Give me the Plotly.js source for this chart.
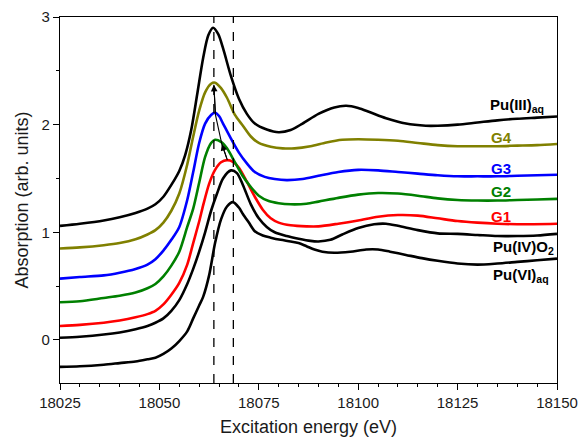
<!DOCTYPE html>
<html>
<head>
<meta charset="utf-8">
<script src="https://cdn.plot.ly/plotly-3.0.1.min.js"></script>
<style>html,body{margin:0;padding:0;background:#fff;}#chart{width:582px;height:443px;}</style>
</head>
<body>
<div id="chart"></div>
<script>
// ---- Data ----
const puVI_E = [18025,18030,18036,18040,18044,18047,18049,18051,18053,18055,18057,18058.5,18060,18061,18062.5,18064,18065.5,18067,18068.5,18070,18071,18072.5,18074,18076,18078,18080.5,18083,18085,18087,18089,18091,18094,18098,18102,18105,18108,18112,18116,18120,18125,18130,18135,18140,18145,18150];
const puVI_Y = [-0.25,-0.245,-0.23,-0.215,-0.2,-0.18,-0.165,-0.13,-0.08,-0.01,0.08,0.2,0.32,0.4,0.6,0.9,1.12,1.24,1.28,1.23,1.17,1.09,1.01,0.97,0.95,0.93,0.915,0.9,0.87,0.84,0.82,0.81,0.82,0.84,0.84,0.82,0.79,0.76,0.735,0.71,0.7,0.71,0.725,0.74,0.755];

const puIV_E = [18025,18030,18036,18040,18044,18047,18049,18051,18053,18055,18057,18058.5,18060,18061.5,18063,18064.5,18066,18068,18069.5,18071,18073,18075,18077,18079,18082,18085,18088,18090,18093,18096,18100,18104,18107,18110,18115,18120,18125,18130,18135,18140,18145,18150];
const puIV_Y = [0.02,0.03,0.05,0.07,0.1,0.13,0.16,0.2,0.27,0.37,0.52,0.66,0.82,1.0,1.2,1.36,1.5,1.575,1.55,1.44,1.26,1.13,1.05,1.0,0.965,0.94,0.92,0.915,0.93,0.98,1.04,1.075,1.08,1.06,1.02,0.99,0.985,0.975,0.965,0.965,0.97,0.985];

const g1_E = [18025,18030,18036,18040,18044,18047,18049,18051,18053,18055,18057,18058.5,18060,18061,18062.5,18064,18065.5,18067,18068.5,18070,18072,18074,18076,18078,18080,18083,18087,18090,18095,18100,18105,18110,18115,18120,18125,18130,18135,18140,18150];
const g1_Y = [0.13,0.14,0.16,0.18,0.21,0.24,0.27,0.33,0.42,0.53,0.7,0.9,1.1,1.25,1.45,1.58,1.65,1.67,1.655,1.6,1.47,1.33,1.21,1.13,1.09,1.065,1.055,1.055,1.08,1.11,1.145,1.16,1.155,1.13,1.105,1.09,1.08,1.075,1.08];

const g2_E = [18025,18030,18036,18040,18044,18047,18049,18051,18053,18055,18057,18058.5,18060,18061.5,18063,18064,18065.5,18067,18069,18071,18073,18075,18077.5,18080,18083,18087,18090,18095,18100,18105,18110,18115,18120,18125,18130,18135,18140,18145,18150];
const g2_Y = [0.35,0.36,0.39,0.41,0.44,0.48,0.52,0.59,0.69,0.82,1.05,1.22,1.46,1.7,1.83,1.86,1.84,1.78,1.65,1.52,1.42,1.34,1.29,1.27,1.26,1.265,1.285,1.32,1.35,1.365,1.36,1.34,1.315,1.3,1.295,1.295,1.3,1.305,1.31];

const g3_E = [18025,18030,18036,18040,18044,18047,18049,18051,18053,18055,18057,18058.5,18060,18061.5,18063,18064,18065,18066,18068,18070,18072,18074,18076.5,18079,18082,18086,18090,18095,18100,18105,18110,18115,18120,18125,18130,18135,18140,18145,18150];
const g3_Y = [0.57,0.585,0.6,0.625,0.66,0.7,0.75,0.83,0.93,1.05,1.3,1.56,1.83,2.01,2.09,2.11,2.08,2.01,1.87,1.74,1.64,1.56,1.515,1.495,1.485,1.495,1.525,1.56,1.58,1.575,1.56,1.545,1.53,1.52,1.52,1.52,1.525,1.53,1.535];

const g4_E = [18025,18030,18036,18040,18044,18047,18049,18051,18053,18055,18057,18058.5,18060,18061.5,18063,18064,18065.5,18067,18069,18071,18073,18075,18078,18081,18084,18088,18092,18096,18100,18105,18110,18115,18120,18125,18130,18135,18140,18145,18150];
const g4_Y = [0.85,0.86,0.88,0.9,0.935,0.98,1.02,1.09,1.2,1.36,1.63,1.89,2.13,2.3,2.38,2.39,2.34,2.25,2.09,1.99,1.89,1.83,1.795,1.78,1.78,1.8,1.835,1.86,1.865,1.86,1.85,1.83,1.81,1.8,1.8,1.8,1.805,1.81,1.82];

const puIII_E = [18025,18030,18036,18040,18044,18047,18049,18051,18053,18055,18056.5,18058,18059.5,18061,18062.3,18063.5,18064.8,18066,18068,18070,18072,18074,18077,18080,18083,18086,18090,18094,18097,18100,18103,18107,18112,18117,18120,18125,18130,18135,18140,18145,18150];
const puIII_Y = [1.06,1.08,1.11,1.14,1.18,1.22,1.26,1.33,1.44,1.57,1.72,1.95,2.28,2.62,2.83,2.9,2.84,2.71,2.45,2.24,2.1,2.01,1.955,1.93,1.95,2.01,2.1,2.16,2.175,2.155,2.115,2.06,2.01,1.99,1.99,2.0,2.02,2.04,2.055,2.065,2.075];

const seriesNames  = ["Pu(VI)<sub>aq</sub>","Pu(IV)O<sub>2</sub>","G1","G2","G3","G4","Pu(III)<sub>aq</sub>"];
const seriesColors = ["#000000","#000000","#ff0000","#008000","#0000ff","#808000","#000000"];
// label anchor positions (energy, absorption) for the right-side labels
const labelE = [18141,18141.5,18136,18136,18136,18136,18140];
const labelY = [0.60,0.86,1.15,1.38,1.594,1.88,2.18];

// dashed reference energies
const refLines = [18063.7, 18068.6];
// peak-shift arrow path (energy, absorption)
const arrowE = [18067.1, 18065.7, 18064.1, 18063.7];
const arrowY = [1.67, 1.82, 2.09, 2.37];

const xs = [puVI_E, puIV_E, g1_E, g2_E, g3_E, g4_E, puIII_E];
const ys = [puVI_Y, puIV_Y, g1_Y, g2_Y, g3_Y, g4_Y, puIII_Y];

const FONT = "Arial, 'Liberation Sans', sans-serif";

const traces = xs.map((x, i) => ({
  x: x, y: ys[i], type: "scatter", mode: "lines",
  line: {color: seriesColors[i], width: 2.6, shape: "spline", smoothing: 0.8},
  hoverinfo: "skip", showlegend: false
}));

// arrow shaft through the peak positions
traces.push({
  x: arrowE, y: arrowY, type: "scatter", mode: "lines",
  line: {color: "#000", width: 1.1}, hoverinfo: "skip", showlegend: false
});

const annotations = seriesNames.map((n, i) => ({
  x: labelE[i], y: labelY[i], xref: "x", yref: "y",
  text: "<b>" + n + "</b>", showarrow: false,
  xanchor: "center", yanchor: "middle",
  font: {family: FONT, size: 15, color: seriesColors[i]}
}));

// arrow heads (at G2 and G4 peaks)
[[0, 1], [2, 3]].forEach(([a, b]) => {
  annotations.push({
    x: arrowE[b], y: arrowY[b], ax: arrowE[a], ay: arrowY[a],
    xref: "x", yref: "y", axref: "x", ayref: "y",
    text: "", showarrow: true,
    arrowhead: 2, arrowsize: 1.2, arrowwidth: 1.1, arrowcolor: "#000",
    standoff: 0, startstandoff: 0
  });
});

const shapes = refLines.map(e => ({
  type: "line", xref: "x", yref: "paper", x0: e, x1: e, y0: 0, y1: 1,
  line: {color: "#000", width: 1.3, dash: "dash"}
}));

const layout = {
  width: 582, height: 443,
  margin: {l: 60, r: 25, t: 17, b: 60},
  paper_bgcolor: "#fff", plot_bgcolor: "#fff",
  font: {family: FONT, color: "#1a1a1a"},
  showlegend: false,
  xaxis: {
    range: [18025, 18150], dtick: 25, tick0: 18025, tickformat: "d",
    ticks: "outside", ticklen: 6, tickwidth: 1, tickcolor: "#000",
    minor: {dtick: 5, ticks: "outside", ticklen: 3, tickwidth: 1, tickcolor: "#000"},
    showline: true, linecolor: "#000", linewidth: 1.2, mirror: true,
    showgrid: false, zeroline: false,
    tickfont: {family: FONT, size: 15, color: "#1a1a1a"},
    title: {text: "Excitation energy (eV)", font: {family: FONT, size: 18, color: "#1a1a1a"}, standoff: 10}
  },
  yaxis: {
    range: [-0.4, 3.0], dtick: 1, tick0: 0,
    ticks: "outside", ticklen: 6, tickwidth: 1, tickcolor: "#000",
    minor: {dtick: 0.5, ticks: "outside", ticklen: 3, tickwidth: 1, tickcolor: "#000"},
    showline: true, linecolor: "#000", linewidth: 1.2, mirror: true,
    showgrid: false, zeroline: false,
    tickfont: {family: FONT, size: 15, color: "#1a1a1a"},
    title: {text: "Absorption (arb. units)", font: {family: FONT, size: 18, color: "#1a1a1a"}, standoff: 8}
  },
  shapes: shapes,
  annotations: annotations
};

Plotly.newPlot("chart", traces, layout, {staticPlot: true, displayModeBar: false});
</script>
</body>
</html>
